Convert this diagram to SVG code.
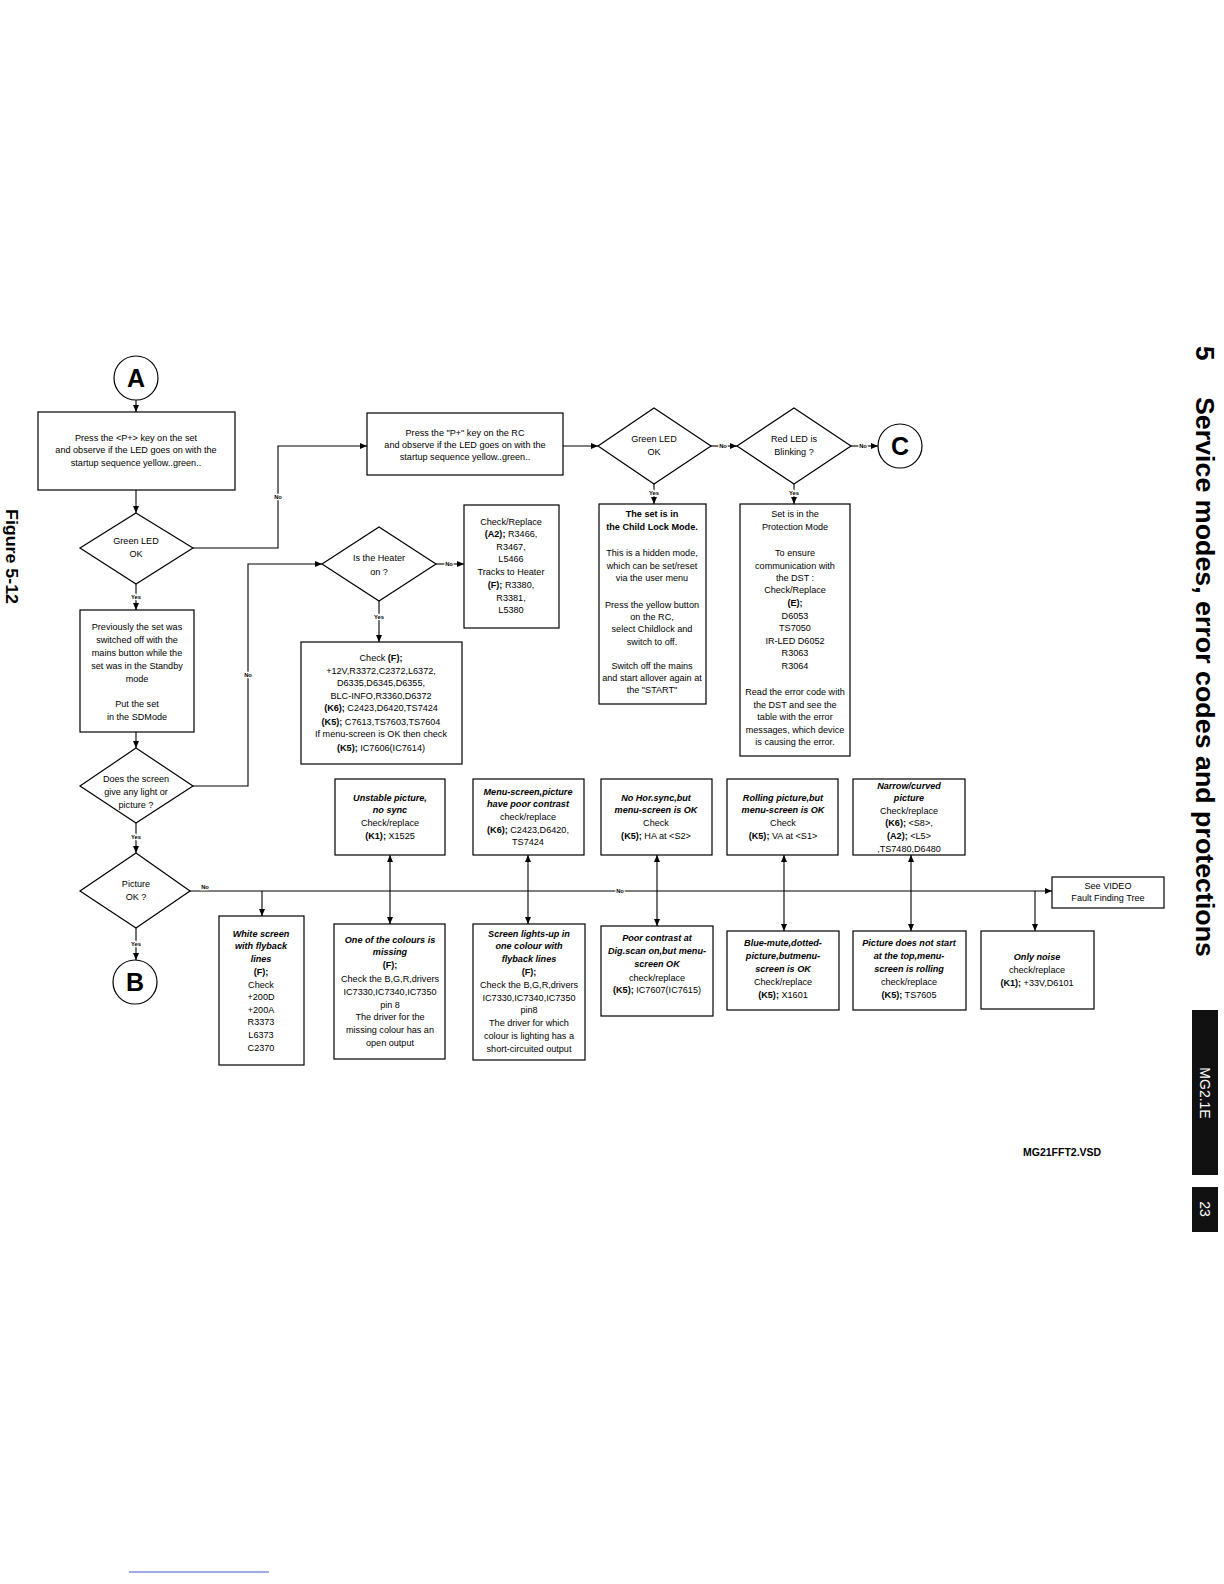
<svg xmlns="http://www.w3.org/2000/svg" width="1224" height="1584" viewBox="0 0 1224 1584">
<defs>
<marker id="ah" markerWidth="7" markerHeight="6" refX="7" refY="3" orient="auto" markerUnits="userSpaceOnUse"><path d="M0,0 L7,3 L0,6 z" fill="#000"/></marker>
<marker id="as" markerWidth="7" markerHeight="6" refX="0" refY="3" orient="auto" markerUnits="userSpaceOnUse"><path d="M7,0 L0,3 L7,6 z" fill="#000"/></marker>
<style>
.box{fill:#fff;stroke:#000;stroke-width:1.2}
.t{font-family:"Liberation Sans",Arial,sans-serif;font-size:9.1px;text-anchor:middle;fill:#000}
.b{font-weight:bold}
.bi{font-weight:bold;font-style:italic}
.lbl{font-family:"Liberation Sans",Arial,sans-serif;font-size:5.8px;font-weight:bold;text-anchor:middle;fill:#000;stroke:#fff;stroke-width:2.5;paint-order:stroke}
.c{fill:none;stroke:#000;stroke-width:1.1}
.big{font-family:"Liberation Sans",Arial,sans-serif;font-size:25px;font-weight:bold;text-anchor:middle;fill:#000}
</style>
</defs>
<rect width="1224" height="1584" fill="#fff"/>

<g id="connectors">
<line class="c" x1="136" y1="400" x2="136" y2="412" marker-end="url(#ah)"/>
<line class="c" x1="136" y1="490" x2="136" y2="513" marker-end="url(#ah)"/>
<polyline class="c" points="193,548 278,548 278,446 367,446" marker-end="url(#ah)"/>
<text class="lbl" x="278" y="499">No</text>
<line class="c" x1="563" y1="446" x2="598" y2="446" marker-end="url(#ah)"/>
<line class="c" x1="711" y1="446" x2="737" y2="446" marker-end="url(#ah)"/>
<text class="lbl" x="723" y="448">No</text>
<line class="c" x1="851" y1="446" x2="878" y2="446" marker-end="url(#ah)"/>
<text class="lbl" x="863" y="448">No</text>
<line class="c" x1="654" y1="484" x2="654" y2="504" marker-end="url(#ah)"/>
<text class="lbl" x="654" y="495">Yes</text>
<line class="c" x1="794" y1="484" x2="794" y2="504" marker-end="url(#ah)"/>
<text class="lbl" x="794" y="495">Yes</text>
<line class="c" x1="136" y1="584" x2="136" y2="610" marker-end="url(#ah)"/>
<text class="lbl" x="136" y="599">Yes</text>
<line class="c" x1="136" y1="732" x2="136" y2="748" marker-end="url(#ah)"/>
<polyline class="c" points="193,786 248,786 248,564 322,564" marker-end="url(#ah)"/>
<text class="lbl" x="248" y="677">No</text>
<line class="c" x1="436" y1="564" x2="464" y2="564" marker-end="url(#ah)"/>
<text class="lbl" x="449" y="566">No</text>
<line class="c" x1="379" y1="601" x2="379" y2="642" marker-end="url(#ah)"/>
<text class="lbl" x="379" y="619">Yes</text>
<line class="c" x1="136" y1="823" x2="136" y2="853" marker-end="url(#ah)"/>
<text class="lbl" x="136" y="839">Yes</text>
<line class="c" x1="136" y1="928" x2="136" y2="960" marker-end="url(#ah)"/>
<text class="lbl" x="136" y="946">Yes</text>
<line class="c" x1="190" y1="891" x2="1052" y2="891" marker-end="url(#ah)"/>
<text class="lbl" x="205" y="889">No</text>
<text class="lbl" x="620" y="893">No</text>
<line class="c" x1="262" y1="891" x2="262" y2="916" marker-end="url(#ah)"/>
<line class="c" x1="390" y1="855" x2="390" y2="924" marker-start="url(#as)" marker-end="url(#ah)"/>
<line class="c" x1="528" y1="855" x2="528" y2="924" marker-start="url(#as)" marker-end="url(#ah)"/>
<line class="c" x1="657" y1="855" x2="657" y2="926" marker-start="url(#as)" marker-end="url(#ah)"/>
<line class="c" x1="784" y1="855" x2="784" y2="931" marker-start="url(#as)" marker-end="url(#ah)"/>
<line class="c" x1="911" y1="855" x2="911" y2="931" marker-start="url(#as)" marker-end="url(#ah)"/>
<line class="c" x1="1035" y1="891" x2="1035" y2="931" marker-end="url(#ah)"/>
</g>

<g id="nodeA"><circle class="box" cx="136" cy="378" r="22"/><text class="big" x="136" y="387">A</text></g>
<g id="nodeB"><circle class="box" cx="135" cy="982" r="22"/><text class="big" x="135" y="991">B</text></g>
<g id="nodeC"><circle class="box" cx="900" cy="446" r="22"/><text class="big" x="900" y="455">C</text></g>

<g id="pressSet"><rect class="box" x="38" y="412" width="197" height="78"/>
<text class="t" x="136" y="441">Press the &lt;P+&gt; key on the set</text>
<text class="t" x="136" y="453">and observe if the LED goes on with the</text>
<text class="t" x="136" y="466">startup sequence yellow..green..</text></g>

<g id="greenLed1"><polygon class="box" points="136,513 193,548 136,584 80,548"/>
<text class="t" x="136" y="544">Green LED</text><text class="t" x="136" y="557">OK</text></g>

<g id="pressRC"><rect class="box" x="367" y="413" width="196" height="62"/>
<text class="t" x="465" y="436">Press the "P+" key on the RC</text>
<text class="t" x="465" y="448">and observe if the LED goes on with the</text>
<text class="t" x="465" y="460">startup sequence yellow..green..</text></g>

<g id="greenLed2"><polygon class="box" points="598,446 654,408 711,446 654,484"/>
<text class="t" x="654" y="442">Green LED</text><text class="t" x="654" y="455">OK</text></g>

<g id="redLed"><polygon class="box" points="737,446 794,408 851,446 794,484"/>
<text class="t" x="794" y="442">Red LED is</text><text class="t" x="794" y="455">Blinking ?</text></g>

<g id="childLock"><rect class="box" x="599" y="504" width="107" height="200"/>
<text class="t b" x="652" y="517">The set is in</text>
<text class="t b" x="652" y="530">the Child Lock Mode.</text>
<text class="t" x="652" y="556">This is a hidden mode,</text>
<text class="t" x="652" y="569">which can be set/reset</text>
<text class="t" x="652" y="581">via the user menu</text>
<text class="t" x="652" y="608">Press the yellow button</text>
<text class="t" x="652" y="620">on the RC,</text>
<text class="t" x="652" y="632">select Childlock and</text>
<text class="t" x="652" y="645">switch to off.</text>
<text class="t" x="652" y="669">Switch off the mains</text>
<text class="t" x="652" y="681">and start allover again at</text>
<text class="t" x="652" y="693">the "START"</text></g>

<g id="protection"><rect class="box" x="740" y="504" width="110" height="252"/>
<text class="t" x="795" y="517">Set is in the</text>
<text class="t" x="795" y="530">Protection Mode</text>
<text class="t" x="795" y="556">To ensure</text>
<text class="t" x="795" y="569">communication with</text>
<text class="t" x="795" y="581">the DST :</text>
<text class="t" x="795" y="593">Check/Replace</text>
<text class="t b" x="795" y="606">(E);</text>
<text class="t" x="795" y="619">D6053</text>
<text class="t" x="795" y="631">TS7050</text>
<text class="t" x="795" y="644">IR-LED D6052</text>
<text class="t" x="795" y="656">R3063</text>
<text class="t" x="795" y="669">R3064</text>
<text class="t" x="795" y="695">Read the error code with</text>
<text class="t" x="795" y="708">the DST and see  the</text>
<text class="t" x="795" y="720">table with the error</text>
<text class="t" x="795" y="733">messages, which device</text>
<text class="t" x="795" y="745">is causing the error.</text></g>

<g id="heater"><polygon class="box" points="322,564 379,527 436,564 379,601"/>
<text class="t" x="379" y="561">Is the Heater</text><text class="t" x="379" y="575">on ?</text></g>

<g id="checkReplace"><rect class="box" x="464" y="505" width="95" height="123"/>
<text class="t" x="511" y="525">Check/Replace</text>
<text class="t" x="511" y="537"><tspan class="b">(A2);</tspan> R3466,</text>
<text class="t" x="511" y="550">R3467,</text>
<text class="t" x="511" y="562">L5466</text>
<text class="t" x="511" y="575">Tracks to Heater</text>
<text class="t" x="511" y="588"><tspan class="b">(F);</tspan> R3380,</text>
<text class="t" x="511" y="601">R3381,</text>
<text class="t" x="511" y="613">L5380</text></g>

<g id="checkF"><rect class="box" x="301" y="642" width="161" height="122"/>
<text class="t" x="381" y="661">Check <tspan class="b">(F);</tspan></text>
<text class="t" x="381" y="674">+12V,R3372,C2372,L6372,</text>
<text class="t" x="381" y="686">D6335,D6345,D6355,</text>
<text class="t" x="381" y="699">BLC-INFO,R3360,D6372</text>
<text class="t" x="381" y="711"><tspan class="b">(K6);</tspan> C2423,D6420,TS7424</text>
<text class="t" x="381" y="725"><tspan class="b">(K5);</tspan> C7613,TS7603,TS7604</text>
<text class="t" x="381" y="737">If menu-screen is OK then check</text>
<text class="t" x="381" y="751"><tspan class="b">(K5);</tspan> IC7606(IC7614)</text></g>

<g id="previously"><rect class="box" x="80" y="610" width="114" height="122"/>
<text class="t" x="137" y="630">Previously the set was</text>
<text class="t" x="137" y="643">switched off with the</text>
<text class="t" x="137" y="656">mains button while the</text>
<text class="t" x="137" y="669">set was in the Standby</text>
<text class="t" x="137" y="682">mode</text>
<text class="t" x="137" y="707">Put the set</text>
<text class="t" x="137" y="720">in the SDMode</text></g>

<g id="anyLight"><polygon class="box" points="136,748 193,786 136,823 80,786"/>
<text class="t" x="136" y="782">Does the screen</text>
<text class="t" x="136" y="795">give any light or</text>
<text class="t" x="136" y="808">picture ?</text></g>

<g id="pictureOk"><polygon class="box" points="136,853 190,891 136,928 80,891"/>
<text class="t" x="136" y="887">Picture</text><text class="t" x="136" y="900">OK ?</text></g>

<g id="unstable"><rect class="box" x="335" y="779" width="110" height="76"/>
<text class="t bi" x="390" y="801">Unstable picture,</text>
<text class="t bi" x="390" y="813">no sync</text>
<text class="t" x="390" y="826">Check/replace</text>
<text class="t" x="390" y="839"><tspan class="b">(K1);</tspan> X1525</text></g>

<g id="menuContrast"><rect class="box" x="473" y="779" width="111" height="76"/>
<text class="t bi" x="528" y="795">Menu-screen,picture</text>
<text class="t bi" x="528" y="807">have poor contrast</text>
<text class="t" x="528" y="820">check/replace</text>
<text class="t" x="528" y="833"><tspan class="b">(K6);</tspan> C2423,D6420,</text>
<text class="t" x="528" y="845">TS7424</text></g>

<g id="noHor"><rect class="box" x="601" y="779" width="111" height="76"/>
<text class="t bi" x="656" y="801">No Hor.sync,but</text>
<text class="t bi" x="656" y="813">menu-screen is OK</text>
<text class="t" x="656" y="826">Check</text>
<text class="t" x="656" y="839"><tspan class="b">(K5);</tspan> HA at &lt;S2&gt;</text></g>

<g id="rolling"><rect class="box" x="727" y="779" width="111" height="76"/>
<text class="t bi" x="783" y="801">Rolling picture,but</text>
<text class="t bi" x="783" y="813">menu-screen is OK</text>
<text class="t" x="783" y="826">Check</text>
<text class="t" x="783" y="839"><tspan class="b">(K5);</tspan> VA at &lt;S1&gt;</text></g>

<g id="narrow"><rect class="box" x="853" y="779" width="112" height="76"/>
<text class="t bi" x="909" y="789">Narrow/curved</text>
<text class="t bi" x="909" y="801">picture</text>
<text class="t" x="909" y="814">Check/replace</text>
<text class="t" x="909" y="826"><tspan class="b">(K6);</tspan> &lt;S8&gt;,</text>
<text class="t" x="909" y="839"><tspan class="b">(A2);</tspan> &lt;L5&gt;</text>
<text class="t" x="909" y="852">,TS7480,D6480</text></g>

<g id="seeVideo"><rect class="box" x="1052" y="877" width="112" height="31"/>
<text class="t" x="1108" y="889">See VIDEO</text>
<text class="t" x="1108" y="901">Fault Finding Tree</text></g>

<g id="whiteScreen"><rect class="box" x="219" y="916" width="85" height="149"/>
<text class="t bi" x="261" y="937">White screen</text>
<text class="t bi" x="261" y="949">with flyback</text>
<text class="t bi" x="261" y="962">lines</text>
<text class="t b" x="261" y="975">(F);</text>
<text class="t" x="261" y="988">Check</text>
<text class="t" x="261" y="1000">+200D</text>
<text class="t" x="261" y="1013">+200A</text>
<text class="t" x="261" y="1025">R3373</text>
<text class="t" x="261" y="1038">L6373</text>
<text class="t" x="261" y="1051">C2370</text></g>

<g id="colourMissing"><rect class="box" x="334" y="924" width="111" height="135"/>
<text class="t bi" x="390" y="943">One of the colours is</text>
<text class="t bi" x="390" y="955">missing</text>
<text class="t b" x="390" y="968">(F);</text>
<text class="t" x="390" y="982">Check the B,G,R,drivers</text>
<text class="t" x="390" y="995">IC7330,IC7340,IC7350</text>
<text class="t" x="390" y="1008">pin 8</text>
<text class="t" x="390" y="1020">The driver for the</text>
<text class="t" x="390" y="1033">missing colour has an</text>
<text class="t" x="390" y="1046">open output</text></g>

<g id="oneColour"><rect class="box" x="473" y="924" width="112" height="136"/>
<text class="t bi" x="529" y="937">Screen lights-up in</text>
<text class="t bi" x="529" y="949">one colour with</text>
<text class="t bi" x="529" y="962">flyback lines</text>
<text class="t b" x="529" y="975">(F);</text>
<text class="t" x="529" y="988">Check the B,G,R,drivers</text>
<text class="t" x="529" y="1001">IC7330,IC7340,IC7350</text>
<text class="t" x="529" y="1013">pin8</text>
<text class="t" x="529" y="1026">The driver for which</text>
<text class="t" x="529" y="1039">colour is lighting has a</text>
<text class="t" x="529" y="1052">short-circuited output</text></g>

<g id="poorContrast"><rect class="box" x="601" y="926" width="112" height="90"/>
<text class="t bi" x="657" y="941">Poor contrast at</text>
<text class="t bi" x="657" y="954">Dig.scan on,but menu-</text>
<text class="t bi" x="657" y="967">screen OK</text>
<text class="t" x="657" y="981">check/replace</text>
<text class="t" x="657" y="993"><tspan class="b">(K5);</tspan> IC7607(IC7615)</text></g>

<g id="blueMute"><rect class="box" x="727" y="931" width="112" height="79"/>
<text class="t bi" x="783" y="946">Blue-mute,dotted-</text>
<text class="t bi" x="783" y="959">picture,butmenu-</text>
<text class="t bi" x="783" y="972">screen is OK</text>
<text class="t" x="783" y="985">Check/replace</text>
<text class="t" x="783" y="998"><tspan class="b">(K5);</tspan> X1601</text></g>

<g id="notStart"><rect class="box" x="853" y="931" width="113" height="79"/>
<text class="t bi" x="909" y="946">Picture does not start</text>
<text class="t bi" x="909" y="959">at the top,menu-</text>
<text class="t bi" x="909" y="972">screen is rolling</text>
<text class="t" x="909" y="985">check/replace</text>
<text class="t" x="909" y="998"><tspan class="b">(K5);</tspan> TS7605</text></g>

<g id="onlyNoise"><rect class="box" x="981" y="931" width="113" height="78"/>
<text class="t bi" x="1037" y="960">Only noise</text>
<text class="t" x="1037" y="973">check/replace</text>
<text class="t" x="1037" y="986"><tspan class="b">(K1);</tspan> +33V,D6101</text></g>

<g id="page">
<text font-family="'Liberation Sans',Arial,sans-serif" font-size="17" font-weight="bold" textLength="95" lengthAdjust="spacingAndGlyphs" transform="translate(6,509) rotate(90)">Figure 5-12</text>
<text font-family="'Liberation Sans',Arial,sans-serif" font-size="26" font-weight="bold" transform="translate(1196,346) rotate(90)">5</text>
<text font-family="'Liberation Sans',Arial,sans-serif" font-size="26" font-weight="bold" textLength="560" lengthAdjust="spacingAndGlyphs" transform="translate(1196,397) rotate(90)">Service modes, error codes and protections</text>
<rect x="1192" y="1010" width="26" height="165" fill="#111"/>
<text font-family="'Liberation Sans',Arial,sans-serif" font-size="14" fill="#fff" text-anchor="middle" transform="translate(1200,1093) rotate(90)">MG2.1E</text>
<rect x="1192" y="1187" width="26" height="45" fill="#111"/>
<text font-family="'Liberation Sans',Arial,sans-serif" font-size="14" fill="#fff" text-anchor="middle" transform="translate(1200,1209) rotate(90)">23</text>
<text font-family="'Liberation Sans',Arial,sans-serif" font-size="10.5" font-weight="bold" x="1023" y="1156">MG21FFT2.VSD</text>
<line x1="129" y1="1572" x2="269" y2="1572" stroke="#3a5bc7" stroke-width="1"/>
</g>
</svg>
